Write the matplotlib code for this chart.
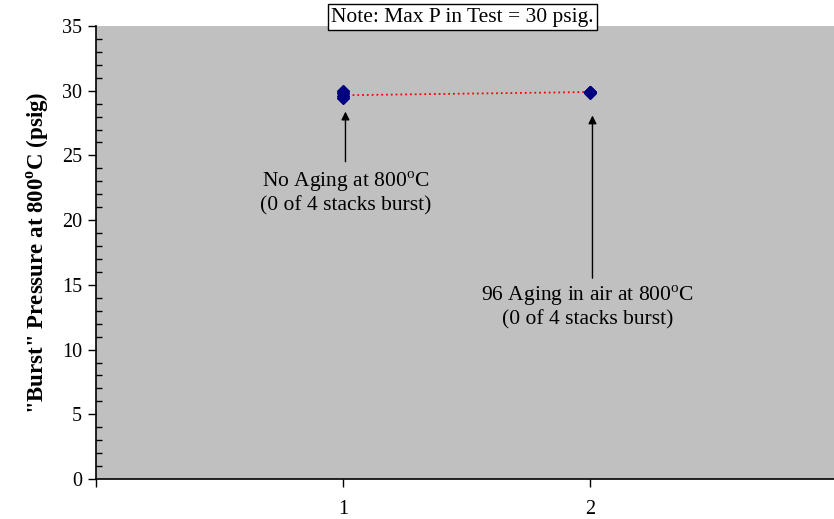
import matplotlib.pyplot as plt

plt.rcParams['font.family'] = ['Liberation Serif', 'DejaVu Serif']

# data
cond = [1, 2]
burst_1 = [30.0, 29.8, 29.6, 29.4]
burst_2 = [29.9, 29.9, 29.8, 29.9]
avg = [29.65, 29.9]

fig = plt.figure(figsize=(8.34, 5.19), dpi=100)
ax = fig.add_axes([0.1151, 0.0771, 0.8885, 0.8728])
ax.set_facecolor('#c0c0c0')

ax.plot(cond, avg, ':', color='#ff0000', lw=1.3, zorder=2)
ax.plot([cond[0]] * len(burst_1), burst_1, 'D', color='#000080', ms=6, zorder=3)
ax.plot([cond[1]] * len(burst_2), burst_2, 'D', color='#000080', ms=6, zorder=3)

ax.set_xlim(0, 3)
ax.set_ylim(0, 35)
ax.set_xticks([0, 1, 2])
ax.set_xticklabels(['', '1', '2'])
ax.set_yticks(range(0, 36, 5))
ax.set_yticks(range(0, 36), minor=True)
ax.tick_params(axis='both', which='major', direction='out', length=6, width=1, labelsize=14.5)
ax.tick_params(axis='x', pad=9)
ax.tick_params(axis='y', pad=4)
ax.tick_params(axis='y', which='minor', direction='in', length=4, width=1)
for s in ['top', 'right']:
    ax.spines[s].set_visible(False)
for s in ['left', 'bottom']:
    ax.spines[s].set_linewidth(1.2)

deg = '$^{\\mathregular{o}}$'
ax.set_ylabel('"Burst" Pressure at 800' + deg + 'C (psig)', fontsize=16.5, fontweight='bold', labelpad=8)

arrow = dict(arrowstyle='-|>', color='black', lw=1, mutation_scale=12)
ax.annotate('', xy=(1.01, 28.6), xytext=(1.01, 24.3), arrowprops=arrow)
ax.annotate('', xy=(2.01, 28.3), xytext=(2.01, 15.3), arrowprops=arrow)
ax.text(1.01, 22.1, 'No Aging at 800' + deg + 'C\n(0 of 4 stacks burst)', ha='center', va='center',
        fontsize=15.5, linespacing=1.15)
ax.text(1.99, 13.3, '96 Aging in air at 800' + deg + 'C\n(0 of 4 stacks burst)', ha='center', va='center',
        fontsize=15.5, linespacing=1.15)

fig.text(0.554, 0.967, 'Note: Max P in Test = 30 psig.', ha='center', va='center', fontsize=15.5,
         bbox=dict(boxstyle='square,pad=0.15', fc='white', ec='black', lw=1))

fig.savefig('out.png', dpi=100)
